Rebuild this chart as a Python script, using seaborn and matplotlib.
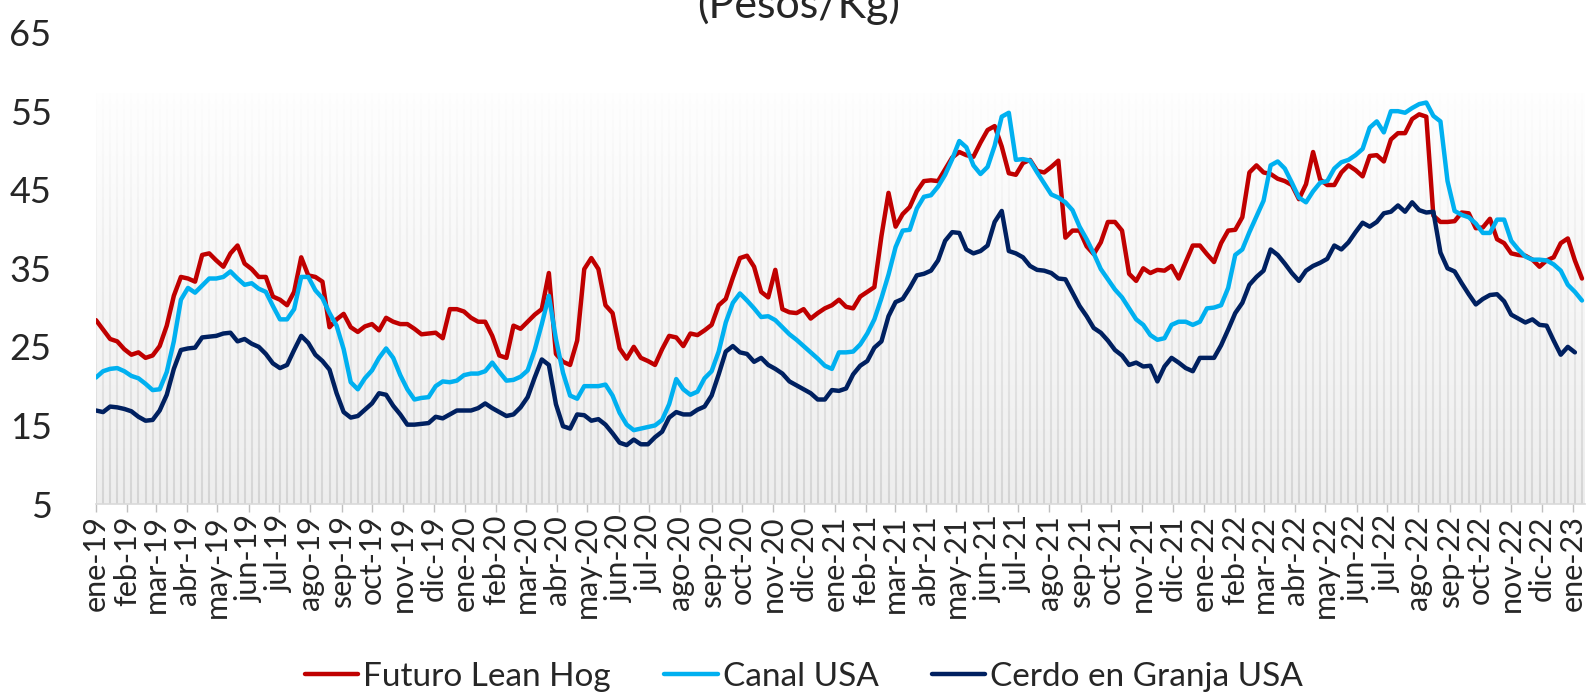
'''
Precio del cerdo: futuro Lean Hog, canal USA y cerdo en granja USA (Pesos/Kg)
'''

# Import the following
import numpy as np
import pandas as pd
import matplotlib
matplotlib.use('Agg')
import matplotlib.pyplot as plt
import matplotlib.dates as mdates
import seaborn as sns

# Weekly series (pesos/kg), first week = ene-19
futuro_lean_hog = [
    28.4, 27.2, 26.0, 25.7, 24.7, 24.0, 24.3, 23.6, 23.9, 25.1, 27.7, 31.5, 33.9, 33.7, 33.3, 36.7,
    36.9, 36.0, 35.2, 36.9, 37.9, 35.6, 34.9, 33.9, 33.9, 31.4, 31.0, 30.3, 32.0, 36.4, 34.1, 33.9,
    33.3, 27.5, 28.5, 29.2, 27.5, 26.9, 27.6, 27.9, 27.1, 28.7, 28.2, 27.9, 27.9, 27.3, 26.6, 26.7,
    26.8, 26.1, 29.8, 29.8, 29.5,
    28.7, 28.2, 28.2, 26.4, 23.9, 23.6, 27.7, 27.3, 28.2, 29.1, 29.8, 34.4, 24.1, 23.1, 22.7, 25.8,
    34.9, 36.3, 34.9, 30.3, 29.3, 24.8, 23.5, 25.0, 23.6, 23.2, 22.7, 24.7, 26.4, 26.2, 25.1, 26.7,
    26.5, 27.1, 27.8, 30.3, 31.1, 33.8, 36.3, 36.6, 35.2, 32.0, 31.3, 34.8, 29.8, 29.4, 29.3, 29.8,
    28.6, 29.3, 29.9, 30.3, 31.0,
    30.1, 29.9, 31.4, 32.0, 32.6, 39.1, 44.6, 40.3, 41.9, 42.8, 44.8, 46.1, 46.2, 46.1, 47.6, 49.1,
    49.8, 49.4, 49.2, 51.0, 52.6, 53.1, 50.5, 47.1, 46.9, 48.4, 48.8, 47.4, 47.2, 47.9, 48.7, 38.9,
    39.8, 39.8, 37.8, 36.8, 38.3, 40.9, 40.9, 39.8, 34.3, 33.4, 35.0, 34.4, 34.8, 34.7, 35.3, 33.7,
    35.8, 37.9, 37.9, 36.8,
    35.8, 38.2, 39.8, 39.9, 41.5, 47.2, 48.1, 47.2, 47.0, 46.4, 46.1, 45.6, 43.8, 45.7, 49.8, 46.3,
    45.6, 45.6, 47.2, 48.1, 47.5, 46.7, 49.3, 49.4, 48.6, 51.4, 52.2, 52.2, 54.0, 54.6, 54.3, 41.7,
    40.9, 40.9, 41.0, 42.1, 42.0, 40.1, 40.2, 41.3, 38.7, 38.2, 36.9, 36.7, 36.6, 36.1, 35.2, 36.0,
    36.4, 38.2, 38.8, 36.0, 33.7,
]

canal_usa = [
    21.1, 21.9, 22.2, 22.3, 21.9, 21.3, 21.0, 20.3, 19.5, 19.6, 21.8, 25.7, 31.0, 32.5, 31.9, 32.8,
    33.7, 33.7, 33.9, 34.6, 33.7, 32.9, 33.1, 32.4, 32.0, 30.2, 28.5, 28.5, 29.8, 33.9, 33.9, 32.2,
    31.2, 29.3, 27.7, 24.7, 20.5, 19.6, 21.0, 22.0, 23.6, 24.8, 23.6, 21.4, 19.6, 18.3, 18.5, 18.6,
    20.0, 20.6, 20.5, 20.7, 21.4,
    21.6, 21.6, 21.9, 23.0, 21.8, 20.7, 20.8, 21.2, 22.0, 24.6, 27.9, 31.5, 26.0, 21.7, 18.8, 18.4,
    20.0, 20.0, 20.0, 20.2, 18.8, 16.6, 15.1, 14.4, 14.6, 14.8, 15.0, 15.7, 17.7, 20.9, 19.6, 18.9,
    19.3, 21.0, 21.9, 24.4, 28.1, 30.6, 31.8, 30.9, 29.9, 28.8, 28.9, 28.4, 27.5, 26.6, 25.9, 25.1,
    24.3, 23.5, 22.6, 22.2, 24.3,
    24.3, 24.4, 25.3, 26.7, 28.5, 31.2, 34.2, 37.7, 39.8, 39.9, 42.6, 44.1, 44.3, 45.4, 46.9, 48.9,
    51.2, 50.4, 48.1, 47.0, 47.9, 50.6, 54.3, 54.8, 48.8, 48.9, 48.7, 47.2, 45.8, 44.4, 44.0, 43.4,
    42.4, 40.3, 38.7, 36.9, 34.9, 33.6, 32.3, 31.3, 29.9, 28.5, 27.8, 26.5, 25.9, 26.1, 27.8, 28.2,
    28.2, 27.8, 28.2, 29.9,
    30.0, 30.3, 32.5, 36.7, 37.4, 39.6, 41.6, 43.6, 48.1, 48.6, 47.7, 45.9, 44.0, 43.4, 44.8, 45.9,
    46.1, 47.7, 48.5, 48.8, 49.4, 50.2, 52.9, 53.7, 52.3, 55.0, 55.0, 54.8, 55.4, 55.9, 56.1, 54.4,
    53.7, 46.1, 42.3, 41.8, 41.5, 40.7, 39.5, 39.5, 41.2, 41.2, 38.5, 37.4, 36.5, 36.1, 36.1, 36.0,
    35.5, 34.7, 32.9, 32.0, 30.9,
]

cerdo_granja_usa = [
    16.9, 16.7, 17.4, 17.3, 17.1, 16.8, 16.1, 15.6, 15.7, 16.9, 18.9, 22.2, 24.6, 24.8, 24.9, 26.2,
    26.3, 26.4, 26.7, 26.8, 25.7, 26.0, 25.4, 25.0, 24.1, 22.9, 22.3, 22.7, 24.6, 26.4, 25.5, 24.0,
    23.2, 22.1, 19.1, 16.7, 16.0, 16.2, 17.0, 17.8, 19.1, 18.9, 17.5, 16.4, 15.1, 15.1, 15.2, 15.3,
    16.1, 15.9, 16.4, 16.9, 16.9,
    16.9, 17.2, 17.8, 17.2, 16.7, 16.2, 16.4, 17.3, 18.6, 21.1, 23.4, 22.7, 17.7, 14.9, 14.6, 16.4,
    16.3, 15.6, 15.8, 15.1, 14.0, 12.8, 12.5, 13.2, 12.6, 12.6, 13.5, 14.2, 16.0, 16.7, 16.4, 16.4,
    17.0, 17.4, 18.8, 21.5, 24.4, 25.1, 24.3, 24.1, 23.1, 23.6, 22.7, 22.2, 21.6, 20.6, 20.1, 19.6,
    19.1, 18.3, 18.3, 19.5, 19.4,
    19.7, 21.5, 22.6, 23.2, 24.9, 25.7, 28.9, 30.7, 31.1, 32.5, 34.1, 34.3, 34.7, 36.0, 38.5, 39.6,
    39.5, 37.4, 36.9, 37.2, 37.9, 40.9, 42.3, 37.2, 36.9, 36.4, 35.3, 34.8, 34.7, 34.4, 33.7, 33.6,
    31.9, 30.2, 28.9, 27.4, 26.8, 25.8, 24.6, 23.9, 22.7, 23.0, 22.5, 22.6, 20.6, 22.5, 23.6, 23.0,
    22.3, 21.9, 23.6, 23.6,
    23.6, 25.2, 27.2, 29.3, 30.6, 32.9, 33.9, 34.7, 37.4, 36.7, 35.6, 34.4, 33.4, 34.7, 35.3, 35.7,
    36.2, 37.9, 37.4, 38.3, 39.6, 40.8, 40.3, 40.9, 42.0, 42.2, 43.0, 42.2, 43.4, 42.4, 42.1, 42.2,
    37.0, 35.0, 34.6, 33.1, 31.7, 30.4, 31.1, 31.6, 31.7, 30.8, 29.1, 28.6, 28.1, 28.5, 27.8, 27.7,
    25.8, 24.0, 25.0, 24.3,
]

series = ['Futuro Lean Hog', 'Canal USA', 'Cerdo en Granja USA']
colores = ['#C00000', '#00B0F0', '#002060']
meses = ['ene', 'feb', 'mar', 'abr', 'may', 'jun', 'jul', 'ago', 'sep', 'oct', 'nov', 'dic']
y_ticks = [5, 15, 25, 35, 45, 55, 65]
fondo_tope = 57.3  # height of the grey background columns

# Weekly dates
fechas = pd.date_range('2019-01-01', periods=len(futuro_lean_hog), freq='7D')

# Long table for seaborn
df = pd.concat([
    pd.DataFrame({'fecha': fechas[:len(vals)], 'precio': vals, 'serie': name})
    for name, vals in zip(series, [futuro_lean_hog, canal_usa, cerdo_granja_usa])
])

sns.set_theme(style='white')
plt.rcParams['font.family'] = ['Lato', 'DejaVu Sans']

fig = plt.figure(figsize=(15.96, 6.95), dpi=100)
ax = fig.add_axes([96 / 1596, 1 - 504 / 695, (1585 - 96) / 1596, (504 - 32.6) / 695])

# Grey background columns: one thin column per week with a vertical fade
xnum = mdates.date2num(fechas)
x0, x1 = xnum[0] - 3.5, xnum[-1] + 3.5
ax.imshow(np.full((2, 2, 3), 0.905), extent=[x0, x1, 5, fondo_tope],
          aspect='auto', origin='lower', zorder=0)
ax.vlines(fechas, 5, fondo_tope, color='#c2c2c2', lw=1.5, zorder=1)
t = np.linspace(0, 1, 256)
fade = np.ones((256, 1, 4))
fade[:, 0, 3] = 0.3 + 0.68 * t ** 0.9
ax.imshow(fade, extent=[x0, x1, 5, fondo_tope], aspect='auto', origin='lower', zorder=2)

# Price lines
sns.lineplot(data=df, x='fecha', y='precio', hue='serie', hue_order=series,
             palette=colores, lw=3.2, ax=ax, legend=False, zorder=3)

# Axes
ax.set_xlim(pd.Timestamp('2019-01-01'), pd.Timestamp('2023-01-13'))
ax.set_ylim(5, 65)
ax.set_yticks(y_ticks)
ax.set_xlabel('')
ax.set_ylabel('')

meses_ticks = pd.date_range('2019-01-01', '2023-01-01', freq='MS')
ax.set_xticks(meses_ticks)
ax.set_xticklabels([f'{meses[d.month - 1]}-{d.strftime("%y")}' for d in meses_ticks])

for side in ['top', 'right', 'left']:
    ax.spines[side].set_visible(False)
ax.spines['bottom'].set_color('#D9D9D9')
ax.spines['bottom'].set_linewidth(1.2)
ax.spines['bottom'].set_zorder(4)

ax.tick_params(axis='x', length=6, width=1, color='#BFBFBF', direction='out',
               labelsize=22, rotation=90, pad=2, bottom=True)
ax.tick_params(axis='y', length=0, labelsize=26, pad=32)

# Title (first line falls outside the picture)
fig.text(0.5006, 1 - 18 / 695, '(Pesos/Kg)', ha='center', va='baseline', fontsize=31)

# Legend at the bottom
handles = [plt.Line2D([], [], color=c, lw=3.2) for c in colores]
fig.legend(handles, series, loc='center', bbox_to_anchor=(804 / 1596, 1 - 677 / 695),
           ncol=3, frameon=False, fontsize=24, handlelength=1.6,
           handletextpad=0.15, columnspacing=1.6)

# Save
fig.savefig('out.png', dpi=100)
